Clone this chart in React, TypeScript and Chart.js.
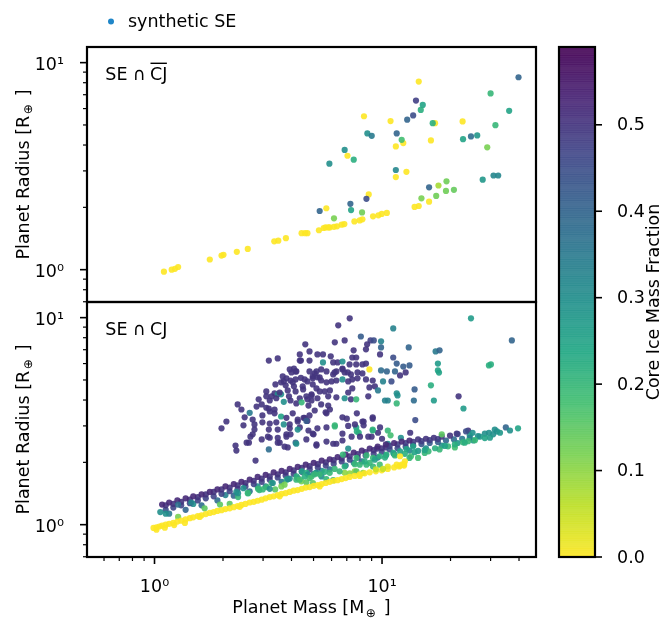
import React, { useEffect, useRef } from 'react';
import { Chart, registerables } from 'chart.js';

Chart.register(...registerables);

const FONT = "'DejaVu Sans', 'Liberation Sans', sans-serif";
const FS = 17.5;

// ---------- axes ----------
const massRange = [0.505, 47.5];
const radiusRange = [0.698, 11.9];
const cmfRange = [0, 0.59];
const massMajorTicks = [1, 10];
const massMinorTicks = [0.6, 0.7, 0.8, 0.9, 2, 3, 4, 5, 6, 7, 8, 9, 20, 30, 40];
const radiusMajorTicks = [1, 10];
const radiusMinorTicks = [0.7, 0.8, 0.9, 2, 3, 4, 5, 6, 7, 8, 9];
const cmfTicks = [0, 0.1, 0.2, 0.3, 0.4, 0.5];

const legendLabel = 'synthetic SE';
const xTitle = ['Planet Mass [M', '⊕', ']'];
const yTitle = ['Planet Radius [R', '⊕', ']'];
const cbTitle = 'Core Ice Mass Fraction';

// ---------- data: [mass (M_earth), radius (R_earth), core ice mass fraction] ----------
const topPanel: [number, number, number][] = [
  [1.10, 0.978, 0], [1.19, 1.0, 0], [1.23, 1.01, 0], [1.27, 1.03, 0], [1.75, 1.12, 0], [1.97, 1.17, 0], [2.01, 1.18, 0],
  [2.30, 1.22, 0], [2.57, 1.26, 0], [3.36, 1.37, 0], [3.50, 1.38, 0], [3.78, 1.42, 0], [4.43, 1.50, 0], [4.59, 1.50, 0],
  [4.70, 1.50, 0], [5.28, 1.55, 0], [5.54, 1.59, 0], [5.65, 1.60, 0], [5.81, 1.60, 0], [5.89, 1.60, 0], [6.15, 1.61, 0],
  [6.34, 1.62, 0], [6.65, 1.65, 0], [6.83, 1.66, 0], [7.56, 1.71, 0], [7.98, 1.73, 0], [8.20, 1.75, 0], [9.13, 1.81, 0],
  [9.64, 1.83, 0], [9.97, 1.86, 0], [10.5, 1.88, 0], [13.9, 2.01, 0], [14.5, 2.03, 0], [16.1, 2.13, 0],
  [5.69, 1.98, 0], [8.74, 2.31, 0], [7.05, 3.55, 0], [12.8, 2.97, 0], [11.5, 2.80, 0], [11.5, 3.94, 0], [12.4, 4.09, 0],
  [16.4, 4.21, 0], [8.33, 5.51, 0], [10.9, 5.22, 0], [17.1, 5.10, 0], [14.5, 8.10, 0], [22.6, 5.20, 0],
  [5.32, 1.92, 0.4], [5.87, 3.25, 0.3], [6.15, 1.77, 0.12], [6.85, 3.79, 0.3], [7.51, 3.40, 0.22], [7.26, 2.08, 0.4],
  [7.31, 1.94, 0.25], [8.17, 1.89, 0.13], [8.54, 2.20, 0.45], [8.62, 4.55, 0.3], [9.01, 4.43, 0.35], [11.5, 3.03, 0.32],
  [11.6, 4.55, 0.4], [12.2, 4.24, 0.18], [12.9, 5.30, 0.4], [13.7, 5.56, 0.45], [14.1, 6.56, 0.48], [15.1, 6.25, 0.25],
  [14.8, 5.91, 0.22], [16.7, 5.10, 0.22], [16.1, 2.50, 0.4], [17.7, 2.55, 0.08], [19.2, 2.67, 0.13], [17.3, 2.27, 0.13],
  [19.1, 2.40, 0.13], [20.7, 2.43, 0.14], [14.9, 2.21, 0.12], [22.7, 4.27, 0.25], [24.6, 4.40, 0.38], [26.2, 4.45, 0.28],
  [27.7, 2.72, 0.28], [29.0, 3.90, 0.12], [30.0, 7.10, 0.2], [30.9, 2.85, 0.32], [32.4, 2.85, 0.32], [31.5, 4.99, 0.2],
  [36.2, 5.85, 0.25], [39.8, 8.50, 0.4],
];

const bottomCloud: [number, number, number][] = [
  [7.21, 9.92, .5], [6.42, 9.18, .5], [24.6, 9.92, .27], [11.2, 8.87, .33], [37.2, 7.76, .4], [8.07, 8.11, .42], [8.9, 7.76, .48],
  [9.2, 7.76, .45], [9.9, 7.68, .33], [8.6, 7.43, .5], [6.85, 7.76, .5], [6.2, 7.6, .5], [4.6, 7.43, .5], [9.9, 7.18, .4],
  [8.5, 7.03, .5], [13.1, 7.18, .4], [7.5, 6.95, .5], [4.8, 6.87, .5], [5.2, 6.64, .5], [5.5, 6.64, .5], [17.2, 6.87, .35],
  [17.9, 6.95, .4], [9.8, 6.64, .5], [5.95, 6.5, .5], [4.35, 6.64, .5], [4.35, 6.2, .5], [4.8, 6.2, .5], [5.5, 6.08, .3],
  [6.1, 6.08, .5], [6.38, 6.08, .5], [6.7, 6.14, .3], [7.4, 6.42, .5], [7.7, 6.42, .5], [11.2, 6.42, .45], [17.6, 6.0, .27],
  [29.5, 5.88, .22], [30.1, 5.94, .22], [7.2, 5.94, .5], [7.7, 5.94, .5], [8.2, 5.94, .5], [8.5, 6.0, .5], [8.8, 5.62, 0],
  [11.6, 6.0, .42], [12.4, 5.8, .42], [13.2, 5.88, .42], [17.6, 5.56, .25], [17.8, 5.43, .25], [4.8, 5.5, .5], [5.06, 5.38, .5],
  [5.4, 5.62, .5], [5.7, 5.5, .5], [6.1, 5.32, .5], [6.3, 5.5, .5], [6.7, 5.62, .5], [6.85, 5.44, .5], [7.3, 5.32, .5],
  [7.8, 5.44, .5], [8.2, 5.38, .5], [9.9, 5.56, .38], [10.5, 5.5, .4], [11.4, 5.5, .4], [12.7, 5.44, .5], [12.0, 5.26, .5],
  [4.17, 5.5, .5], [5.15, 5.5, .5], [6.19, 5.44, .5], [6.7, 5.68, .5], [7.07, 5.44, .5], [4.96, 5.2, .5], [5.32, 5.15, .5],
  [4.4, 5.12, .5], [4.7, 4.92, .5],
  [4.57, 5.03, .5], [4.96, 5.09, .5], [5.2, 5.15, .5], [5.4, 4.97, .5], [5.7, 4.87, .5], [6.0, 4.92, .5], [6.3, 4.97, .5],
  [6.7, 5.03, .3], [7.1, 4.92, .5], [7.4, 5.03, .5], [7.8, 5.09, .5], [8.5, 5.03, .5], [9.1, 4.97, .5], [10.1, 4.92, .33],
  [11.0, 4.92, .45], [16.4, 4.71, .22], [4.48, 4.66, .5], [4.96, 4.76, .5], [5.15, 4.55, .5], [5.32, 4.40, .5], [5.6, 4.40, .5],
  [5.9, 4.45, .5], [7.1, 4.35, .5], [7.4, 4.55, .5], [8.8, 4.6, .5], [9.3, 4.66, .5], [9.6, 4.45, .35], [13.9, 4.5, .42],
  [11.6, 4.31, .3], [11.7, 4.21, .3], [4.35, 4.08, .5], [4.65, 4.17, .5], [4.9, 4.21, .5], [5.2, 4.08, .5], [5.8, 4.17, .5],
  [6.3, 4.12, .5], [6.85, 4.08, .3], [7.3, 4.03, .5], [7.7, 4.03, .2], [8.7, 4.17, .5], [10.3, 3.98, .33], [10.6, 3.98, .33],
  [13.8, 3.98, .38], [11.6, 3.85, .2], [16.9, 3.98, .27], [21.7, 4.17, .5], [22.8, 3.64, .27], [4.75, 3.76, .5], [5.4, 3.81, .5],
  [5.8, 3.76, .5], [5.9, 3.6, .5], [5.7, 3.45, .5], [7.75, 3.45, .5], [4.52, 3.28, .5], [4.7, 3.17, .5], [7.0, 3.25, .5],
  [8.2, 3.15, .5], [9.1, 3.25, .5], [14.0, 3.2, .45], [5.2, 2.92, .5], [5.7, 2.95, .5], [6.2, 3.02, .2], [4.96, 2.75, .5],
  [6.7, 2.75, .5], [7.7, 2.95, .25], [7.9, 2.78, .22], [8.3, 3.02, .5], [9.1, 2.88, .2], [9.6, 2.78, .5], [10.6, 2.85, .2],
  [10.9, 2.7, .18], [9.0, 2.66, .5], [12.1, 2.63, .3], [13.3, 2.78, .5], [6.1, 2.46, .5], [6.7, 2.55, .5], [7.35, 2.66, .5],
  [5.15, 2.44, .5], [7.1, 2.33, .3], [9.5, 2.33, .5], [10.4, 2.36, .5], [10.6, 2.46, .3], [35.0, 2.95, .4], [39.6, 2.92, .25],
  [31.3, 2.88, .3], [32.0, 2.82, .3], [29.5, 2.78, .3], [30.8, 2.73, .3], [26.9, 2.66, .27], [23.9, 2.85, .5], [21.3, 2.75, .5],
  [25.0, 2.78, .3], [24.3, 2.7, .28], [28.3, 2.75, .3], [33.0, 2.78, .28], [36.5, 2.85, .3],
  [3.18, 6.2, .5], [3.48, 6.35, .5], [4.4, 6.2, .5], [3.93, 5.62, .5], [4.1, 5.68, .5], [4.2, 5.5, .5], [4.0, 5.44, .5],
  [3.8, 5.09, .5], [3.7, 4.92, .5], [3.96, 4.97, .5], [3.66, 5.2, .5], [4.17, 5.03, .5], [3.4, 4.76, .5], [3.77, 4.71, .5],
  [4.1, 4.66, .5], [3.6, 4.87, .5], [4.05, 4.87, .5], [3.1, 4.4, .5], [3.37, 4.31, .5], [3.6, 4.26, .3], [3.85, 4.45, .5],
  [4.17, 4.4, .5], [4.5, 4.5, .5], [2.87, 4.03, .5], [3.21, 3.98, .5], [3.48, 4.26, .3], [3.7, 3.92, .3], [3.96, 3.98, .5],
  [4.2, 3.85, .5], [4.43, 3.9, .2], [4.9, 3.98, .5], [3.1, 4.17, .5], [3.27, 4.17, .5], [3.43, 4.08, .5], [3.55, 4.35, .5],
  [3.9, 4.17, .5], [4.7, 4.03, .5], [4.9, 4.26, .5], [2.32, 3.81, .5], [2.41, 3.6, .5], [2.62, 3.47, .35], [2.81, 3.72, .5],
  [2.96, 3.81, .5], [3.1, 3.67, .5], [3.21, 3.52, .5], [3.37, 3.6, .5], [3.18, 3.64, .5], [3.37, 3.45, .5], [3.6, 3.33, .25],
  [3.8, 3.28, .5], [4.05, 3.45, .5], [4.26, 3.22, .5], [4.57, 3.28, .5], [4.8, 3.37, .5], [5.06, 3.56, .5], [2.07, 3.15, .5],
  [1.97, 2.92, .5], [2.46, 3.02, .5], [2.49, 3.3, .5], [2.7, 3.22, .5], [2.75, 3.05, .5], [2.98, 3.12, .5], [2.98, 3.37, .5],
  [3.21, 3.08, .5], [3.43, 3.12, .5], [3.7, 3.05, .3], [3.93, 3.05, .5], [4.26, 3.15, .5], [4.65, 3.17, .42], [3.93, 2.92, .5],
  [4.35, 2.95, .5], [4.75, 2.85, .5], [2.75, 2.88, .5], [3.18, 2.88, .5], [3.48, 2.88, .5], [3.8, 2.73, .5], [3.96, 2.73, .5],
  [4.26, 2.88, .3], [5.0, 2.73, .5], [2.64, 2.66, .5], [2.54, 2.49, .5], [2.7, 2.73, .5], [2.96, 2.58, .5], [3.15, 2.66, .5],
  [3.21, 2.63, .5], [3.48, 2.63, .5], [3.55, 2.49, .5], [3.8, 2.66, .5], [4.17, 2.49, .4], [4.65, 2.58, .5], [5.15, 2.41, .5],
  [5.7, 2.52, .5], [2.27, 2.41, .5], [2.29, 2.28, .5], [2.6, 2.49, .5], [3.18, 2.31, .38], [3.48, 2.49, .5], [3.85, 2.36, .5],
  [4.2, 2.46, .3], [3.73, 2.38, .5], [2.78, 2.04, .5], [6.3, 2.46, .5], [7.75, 2.82, .22], [9.1, 2.85, .22], [7.1, 3.0, .5],
  [7.6, 3.05, .5], [8.0, 2.66, .5], [8.7, 2.66, .5], [10.0, 2.6, .5], [9.8, 2.95, .5], [8.3, 3.15, .5], [6.7, 3.3, .5],
  [9.1, 3.3, .5], [5.65, 3.49, .5], [6.2, 2.98, .2],
];

const bandYellow: [number, number, number][] = [
  [0.99, 0.965, 0], [1.02, 0.97, 0], [1.05, 0.98, 0], [1.08, 0.99, 0], [1.12, 1.0, 0], [1.16, 1.01, 0], [1.21, 1.02, 0],
  [1.26, 1.035, 0], [1.31, 1.045, 0], [1.37, 1.06, 0], [1.43, 1.075, 0], [1.48, 1.085, 0], [1.55, 1.10, 0], [1.61, 1.11, 0],
  [1.68, 1.125, 0], [1.75, 1.14, 0], [1.82, 1.15, 0], [1.89, 1.165, 0], [1.97, 1.175, 0], [2.05, 1.19, 0], [2.14, 1.20, 0],
  [2.23, 1.215, 0], [2.32, 1.23, 0], [2.41, 1.245, 0], [2.51, 1.26, 0], [2.62, 1.28, 0], [2.73, 1.29, 0], [2.84, 1.305, 0],
  [2.96, 1.32, 0], [3.08, 1.34, 0], [3.21, 1.36, 0], [3.34, 1.37, 0], [3.48, 1.39, 0], [3.62, 1.41, 0], [3.77, 1.42, 0],
  [3.93, 1.44, 0], [4.09, 1.46, 0], [4.26, 1.47, 0], [4.44, 1.49, 0], [4.62, 1.51, 0], [4.81, 1.52, 0], [5.01, 1.54, 0],
  [5.22, 1.555, 0], [5.43, 1.57, 0], [5.66, 1.59, 0], [5.89, 1.61, 0], [6.13, 1.63, 0], [6.38, 1.64, 0], [6.65, 1.66, 0],
  [6.92, 1.68, 0], [7.21, 1.70, 0], [7.59, 1.72, 0], [7.98, 1.75, 0], [8.39, 1.77, 0], [8.83, 1.79, 0], [9.39, 1.81, 0],
  [9.97, 1.83, 0], [10.6, 1.86, 0], [11.3, 1.89, 0], [12.0, 1.93, 0], [12.5, 1.96, 0],
  [1.02, 0.946, 0], [1.11, 0.967, 0], [1.22, 0.995, 0], [1.36, 1.02, 0], [1.58, 1.09, 0], [2.37, 1.22, 0], [3.55, 1.37, 0],
  [5.32, 1.53, 0], [7.98, 1.72, 0],
  [11.9, 1.91, 0], [12.2, 1.95, 0], [12.5, 1.93, 0], [12.0, 2.14, 0], [12.6, 2.02, 0], [11.6, 1.95, 0], [10.6, 1.91, 0.02],
  [10.1, 1.86, 0.05], [9.4, 1.85, 0.05],
];

const bandMiddle: [number, number, number][] = [
  [1.27, 1.09, .12], [1.66, 1.2, .15], [1.94, 1.25, .15], [2.14, 1.26, .15], [2.33, 1.36, .2], [2.58, 1.42, .2], [2.89, 1.47, .2],
  [3.11, 1.52, .2], [3.39, 1.48, .15], [3.27, 1.59, .2], [3.81, 1.65, .22], [4.21, 1.71, .22], [4.44, 1.81, .25], [4.66, 1.78, .22],
  [4.90, 1.71, .2], [5.15, 1.78, .25],
  [1.06, 1.15, .3], [1.12, 1.13, .3], [1.27, 1.25, .37], [1.45, 1.28, .32], [2.33, 1.42, .3], [2.46, 1.5, .3],
  [2.29, 1.44, .3], [2.57, 1.42, .2], [2.85, 1.49, .2], [2.99, 1.48, .2], [3.21, 1.49, .3], [3.31, 1.59, .3], [3.61, 1.53, .12],
  [3.73, 1.56, .12], [3.86, 1.66, .3], [4.2, 1.65, .2], [4.42, 1.62, .12], [4.65, 1.6, .15], [4.97, 1.59, .15], [4.72, 1.75, .3],
  [5.14, 1.78, .3], [5.42, 1.71, .3], [5.69, 1.66, .2], [6.1, 1.64, .2], [6.85, 1.78, .1], [7.21, 1.77, .1], [7.59, 1.81, .1],
  [8.25, 1.78, .1], [8.54, 1.95, .2], [9.13, 1.91, .2], [6.73, 2.18, .2], [7.72, 2.1, .2], [8.54, 2.16, .2], [9.13, 2.1, .2],
  [9.77, 2.14, .22], [10.45, 2.18, .22], [11.2, 2.22, .25], [12.0, 2.26, .25], [12.8, 2.32, .25], [13.7, 2.39, .25],
  [13.4, 2.14, .18], [14.4, 2.1, .18],
  [4.35, 1.65, .18], [4.81, 1.68, .18], [5.32, 1.75, .2], [5.89, 1.78, .2], [6.51, 1.81, .2], [7.72, 1.81, .15], [7.98, 1.95, .2],
  [8.83, 1.99, .2], [9.77, 1.95, .18], [13.2, 2.1, .2], [15.4, 2.22, .2], [16.0, 2.26, .2], [17.9, 2.31, .2], [19.5, 2.39, .2],
  [20.9, 2.36, .18], [22.7, 2.5, .2], [23.9, 2.53, .2], [18.3, 2.73, .15],
  [4.57, 1.71, .22], [5.06, 1.75, .2], [5.6, 1.80, .22], [6.19, 1.86, .2], [6.85, 1.91, .22], [7.59, 1.96, .2], [8.39, 2.02, .22],
  [9.29, 2.06, .25], [10.3, 2.11, .22], [11.4, 2.16, .2], [12.6, 2.2, .22], [13.9, 2.24, .25], [15.4, 2.29, .25],
  [17.1, 2.34, .22], [18.9, 2.4, .25], [20.9, 2.44, .22], [23.1, 2.49, .22], [25.6, 2.56, .2], [28.3, 2.62, .25],
];

const bandLowerRows: [number, number, number][] = [
  [1.48, 1.26, .3], [2.05, 1.39, .33], [2.84, 1.53, .3], [3.93, 1.67, .32], [5.43, 1.82, .3], [7.51, 1.99, .32], [10.4, 2.16, .3],
  [14.4, 2.27, .28],
  [1.16, 1.13, .35], [1.37, 1.18, .4], [1.61, 1.24, .38], [1.89, 1.31, .38], [2.23, 1.38, .4], [2.62, 1.45, .38], [3.08, 1.53, .35],
  [3.62, 1.61, .35], [4.26, 1.68, .38], [5.01, 1.76, .35], [5.89, 1.85, .38], [6.92, 1.93, .35], [8.15, 2.02, .38],
  [9.57, 2.11, .35], [11.3, 2.19, .35], [13.2, 2.28, .32], [15.6, 2.34, .3], [18.3, 2.41, .3], [21.5, 2.48, .28],
  [25.2, 2.55, .28], [29.8, 2.63, .27],
];

const bandUpperRows: [number, number, number][] = [
  [1.12, 1.18, .45], [1.21, 1.21, .47], [1.31, 1.24, .47], [1.43, 1.27, .47], [1.55, 1.31, .47], [1.68, 1.34, .47],
  [1.82, 1.37, .47], [1.97, 1.41, .47], [2.14, 1.45, .47], [2.32, 1.49, .47], [2.51, 1.53, .47], [2.73, 1.57, .47],
  [2.96, 1.61, .47], [3.21, 1.65, .47], [3.48, 1.69, .47], [3.77, 1.73, .47], [4.09, 1.76, .47], [4.44, 1.80, .47],
  [4.81, 1.85, .47], [5.22, 1.89, .47], [5.66, 1.93, .47], [6.13, 1.97, .47], [6.65, 2.02, .47], [7.21, 2.06, .47],
  [7.82, 2.11, .47], [8.47, 2.16, .47], [9.19, 2.20, .47], [9.97, 2.25, .47], [10.8, 2.31, .45], [11.7, 2.34, .45],
  [12.7, 2.38, .45], [13.7, 2.42, .45], [14.9, 2.45, .43], [16.2, 2.48, .42], [17.6, 2.51, .42], [19.1, 2.55, .4],
  [20.7, 2.58, .38], [22.5, 2.6, .35], [24.3, 2.63, .33], [26.4, 2.68, .3],
  [1.12, 1.24, .5], [1.21, 1.26, .5], [1.31, 1.29, .5], [1.43, 1.32, .5], [1.55, 1.36, .5], [1.68, 1.40, .5], [1.82, 1.44, .5],
  [1.97, 1.48, .5], [2.14, 1.51, .5], [2.32, 1.55, .5], [2.51, 1.59, .5], [2.73, 1.63, .5], [2.96, 1.67, .5], [3.21, 1.71, .5],
  [3.48, 1.75, .5], [3.77, 1.79, .5], [4.09, 1.83, .5], [4.44, 1.88, .5], [4.81, 1.92, .5], [5.22, 1.96, .5], [5.66, 2.0, .5],
  [6.13, 2.05, .5], [6.65, 2.09, .5], [7.21, 2.14, .5], [7.82, 2.19, .5], [8.47, 2.24, .5], [9.19, 2.29, .5], [9.97, 2.34, .5],
  [10.8, 2.4, .48], [11.7, 2.44, .48], [12.7, 2.48, .48], [13.7, 2.51, .48], [14.9, 2.53, .48], [16.2, 2.56, .48],
  [17.6, 2.59, .48],
  [1.08, 1.25, .52], [1.16, 1.28, .52], [1.26, 1.31, .52], [1.37, 1.34, .52], [1.48, 1.37, .52], [1.61, 1.40, .52],
  [1.75, 1.44, .52], [1.89, 1.48, .52], [2.05, 1.53, .52], [2.23, 1.57, .52], [2.41, 1.61, .52], [2.62, 1.65, .52],
  [2.84, 1.70, .52], [3.08, 1.74, .52], [3.34, 1.79, .52], [3.62, 1.82, .52], [3.93, 1.86, .52], [4.26, 1.90, .52],
  [4.62, 1.95, .52], [5.01, 1.99, .52], [5.43, 2.04, .52], [5.89, 2.07, .52], [6.38, 2.12, .52], [6.92, 2.18, .52],
  [7.51, 2.23, .52], [8.15, 2.28, .52], [8.83, 2.33, .52], [9.57, 2.38, .52], [10.4, 2.44, .52], [11.3, 2.48, .52],
  [12.2, 2.52, .52], [13.2, 2.55, .52], [14.4, 2.58, .5], [15.6, 2.60, .5], [16.9, 2.63, .5], [18.3, 2.66, .5],
  [19.9, 2.69, .5], [21.5, 2.74, .48], [23.4, 2.82, .45],
];

// ---------- colormap (viridis, reversed) ----------
const viridisStops = ['#440154', '#482475', '#414487', '#355f8d', '#2a788e', '#21918c', '#22a884', '#44bf70', '#7ad151', '#bddf26', '#fde725'];
const POINT_ALPHA = 0.9;

function hexToRgb(h: string) {
  return [parseInt(h.slice(1, 3), 16), parseInt(h.slice(3, 5), 16), parseInt(h.slice(5, 7), 16)];
}
const viridisRgb = viridisStops.map(hexToRgb);

function cmfColor(c: number, alpha: number) {
  let t = 1 - (c - cmfRange[0]) / (cmfRange[1] - cmfRange[0]);
  t = Math.max(0, Math.min(1, t));
  const f = t * (viridisRgb.length - 1);
  const i = Math.min(Math.floor(f), viridisRgb.length - 2);
  const r = f - i;
  const a = viridisRgb[i], b = viridisRgb[i + 1];
  const col = [0, 1, 2].map((k) => Math.round(a[k] + (b[k] - a[k]) * r));
  return `rgba(${col[0]},${col[1]},${col[2]},${alpha})`;
}

const SUP: Record<string, string> = { '0': '⁰', '1': '¹', '2': '²', '3': '³', '4': '⁴', '5': '⁵', '6': '⁶', '7': '⁷', '8': '⁸', '9': '⁹', '-': '⁻' };
function powLabel(v: number) {
  const e = Math.round(Math.log10(v));
  return '10' + String(e).split('').map((ch) => SUP[ch] || ch).join('');
}

function makeDataset(rows: [number, number, number][], yAxisID: string) {
  return {
    data: rows.map(([m, r]) => ({ x: m, y: r })),
    xAxisID: 'x',
    yAxisID,
    pointRadius: 3.1,
    pointHoverRadius: 3.1,
    pointBorderWidth: 0,
    pointBackgroundColor: rows.map(([, , c]) => cmfColor(c, POINT_ALPHA)),
    showLine: false,
  };
}

function zeroPad(s: any) {
  s.paddingTop = 0; s.paddingBottom = 0; s.paddingLeft = 0; s.paddingRight = 0;
}

function drawSubText(ctx: CanvasRenderingContext2D, parts: string[], cx: number, base: number) {
  const big = `${FS}px ${FONT}`;
  const small = `12px ${FONT}`;
  ctx.font = big;
  const w1 = ctx.measureText(parts[0]).width;
  const w3 = ctx.measureText(parts[2]).width;
  ctx.font = small;
  const w2 = ctx.measureText(parts[1]).width;
  const g1 = 1.5, g2 = 8;
  const total = w1 + g1 + w2 + g2 + w3;
  let x = cx - total / 2;
  ctx.textAlign = 'left';
  ctx.textBaseline = 'alphabetic';
  ctx.font = big;
  ctx.fillText(parts[0], x, base);
  x += w1 + g1;
  ctx.font = small;
  ctx.fillText(parts[1], x, base + 3.5);
  x += w2 + g2;
  ctx.font = big;
  ctx.fillText(parts[2], x, base);
}

const decorPlugin = {
  id: 'decor',
  afterDraw(chart: any) {
    const ctx: CanvasRenderingContext2D = chart.ctx;
    const area = chart.chartArea;
    const xs = chart.scales.x, yt = chart.scales.yTop, yb = chart.scales.yBot, cb = chart.scales.cb;
    ctx.save();
    ctx.strokeStyle = '#000';
    ctx.fillStyle = '#000';
    const line = (x1: number, y1: number, x2: number, y2: number, w: number) => {
      ctx.lineWidth = w;
      ctx.beginPath();
      ctx.moveTo(x1, y1);
      ctx.lineTo(x2, y2);
      ctx.stroke();
    };
    // y ticks
    for (const s of [yt, yb]) {
      for (const v of radiusMajorTicks) {
        if (v < s.min || v > s.max) continue;
        const p = s.getPixelForValue(v);
        line(area.left - 7, p, area.left, p, 1.6);
      }
      for (const v of radiusMinorTicks) {
        if (v < s.min || v > s.max) continue;
        const p = s.getPixelForValue(v);
        line(area.left - 4, p, area.left, p, 1.2);
      }
    }
    // x ticks (bottom panel)
    for (const v of massMajorTicks) {
      const p = xs.getPixelForValue(v);
      line(p, area.bottom, p, area.bottom + 7, 1.6);
    }
    for (const v of massMinorTicks) {
      if (v < xs.min || v > xs.max) continue;
      const p = xs.getPixelForValue(v);
      line(p, area.bottom, p, area.bottom + 4, 1.2);
    }
    // frames
    ctx.lineWidth = 2.2;
    for (const s of [yt, yb]) ctx.strokeRect(area.left, s.top, area.right - area.left, s.bottom - s.top);

    // colorbar
    const cbL = cb.left + 23, cbR = cb.left + 59;
    const n = 240;
    const step = (cmfRange[1] - cmfRange[0]) / n;
    for (let i = 0; i < n; i++) {
      const v0 = cmfRange[0] + i * step;
      const y1 = cb.getPixelForValue(v0);
      const y2 = cb.getPixelForValue(v0 + step);
      ctx.fillStyle = cmfColor(v0 + step / 2, POINT_ALPHA);
      ctx.fillRect(cbL, y2, cbR - cbL, y1 - y2 + 0.5);
    }
    ctx.lineWidth = 2.2;
    ctx.strokeRect(cbL, cb.top, cbR - cbL, cb.bottom - cb.top);
    for (const v of cmfTicks) {
      const p = cb.getPixelForValue(v);
      line(cbR, p, cbR + 7, p, 1.6);
    }

    // legend
    ctx.fillStyle = '#1f86c8';
    ctx.beginPath();
    ctx.arc(111, 21.5, 3, 0, Math.PI * 2);
    ctx.fill();
    ctx.fillStyle = '#000';
    ctx.font = `${FS}px ${FONT}`;
    ctx.textAlign = 'left';
    ctx.textBaseline = 'alphabetic';
    ctx.fillText(legendLabel, 128, 26.5);

    // panel labels
    const panelLabel = (top: number, overline: boolean) => {
      const base = top + 33;
      ctx.font = `${FS}px ${FONT}`;
      ctx.textAlign = 'left';
      ctx.fillText('SE', area.left + 18.3, base);
      ctx.textAlign = 'center';
      ctx.fillText('∩', area.left + 52.5, base);
      ctx.textAlign = 'left';
      const cx = area.left + 63;
      ctx.fillText('CJ', cx, base);
      if (overline) {
        const w = ctx.measureText('CJ').width;
        line(cx + 0.5, base - 16.7, cx + w - 0.5, base - 16.7, 1.4);
      }
    };
    panelLabel(yt.top, true);
    panelLabel(yb.top, false);

    // axis titles
    drawSubText(ctx, xTitle, (area.left + area.right) / 2, 613);
    for (const s of [yt, yb]) {
      ctx.save();
      ctx.translate(28.5, (s.top + s.bottom) / 2);
      ctx.rotate(-Math.PI / 2);
      drawSubText(ctx, yTitle, 0, 0);
      ctx.restore();
    }
    ctx.save();
    ctx.translate(658.5, (cb.top + cb.bottom) / 2);
    ctx.rotate(-Math.PI / 2);
    ctx.font = `${FS}px ${FONT}`;
    ctx.textAlign = 'center';
    ctx.textBaseline = 'alphabetic';
    ctx.fillText(cbTitle, 0, 0);
    ctx.restore();

    ctx.restore();
  },
};

const tickFont = { family: FONT, size: FS };

export default function App() {
  const ref = useRef<HTMLCanvasElement>(null);
  useEffect(() => {
    const canvas = ref.current;
    if (!canvas) return;
    const logY = (ticks: number[]) => ({
      type: 'logarithmic',
      position: 'left',
      stack: 'panels',
      stackWeight: 1,
      min: radiusRange[0],
      max: radiusRange[1],
      grid: { display: false },
      border: { display: false },
      ticks: { font: tickFont, color: '#000', padding: 15, labelOffset: 2.5, autoSkip: false, callback: (v: number) => powLabel(v) },
      afterBuildTicks: (s: any) => { s.ticks = ticks.map((v) => ({ value: v })); },
      afterFit: (s: any) => { s.width = 87; zeroPad(s); },
    });
    const chart = new Chart(canvas, {
      type: 'scatter',
      data: {
        datasets: [
          makeDataset(topPanel, 'yTop'),
          makeDataset(bandYellow, 'yBot'),
          makeDataset(bandMiddle, 'yBot'),
          makeDataset(bandUpperRows, 'yBot'),
          makeDataset(bandLowerRows, 'yBot'),
          makeDataset(bottomCloud, 'yBot'),
        ] as any,
      },
      options: {
        animation: false,
        responsive: false,
        devicePixelRatio: 1,
        events: [],
        layout: { padding: { top: 47, left: 0, right: 0, bottom: 0 } },
        plugins: { legend: { display: false }, tooltip: { enabled: false }, title: { display: false } },
        scales: {
          x: {
            type: 'logarithmic',
            position: 'bottom',
            min: massRange[0],
            max: massRange[1],
            grid: { display: false },
            border: { display: false },
            ticks: { font: tickFont, color: '#000', padding: 11.5, maxRotation: 0, autoSkip: false, callback: (v: number) => powLabel(v) },
            afterBuildTicks: (s: any) => { s.ticks = massMajorTicks.map((v) => ({ value: v })); },
            afterFit: (s: any) => { s.height = 62; zeroPad(s); },
          },
          yBot: logY(radiusMajorTicks),
          yTop: logY(radiusMajorTicks),
          cb: {
            type: 'linear',
            position: 'right',
            min: cmfRange[0],
            max: cmfRange[1],
            grid: { display: false },
            border: { display: false },
            ticks: { font: tickFont, color: '#000', padding: 73, labelOffset: 1, autoSkip: false, callback: (v: number) => v.toFixed(1) },
            afterBuildTicks: (s: any) => { s.ticks = cmfTicks.map((v) => ({ value: v })); },
            afterFit: (s: any) => { s.width = 126; zeroPad(s); },
          },
        } as any,
      },
      plugins: [decorPlugin],
    } as any);
    return () => chart.destroy();
  }, []);
  return (
    <div style={{ position: 'fixed', left: 0, top: 0, width: 662, height: 619, background: '#fff' }}>
      <canvas ref={ref} width={662} height={619} style={{ display: 'block', width: 662, height: 619 }} />
    </div>
  );
}
